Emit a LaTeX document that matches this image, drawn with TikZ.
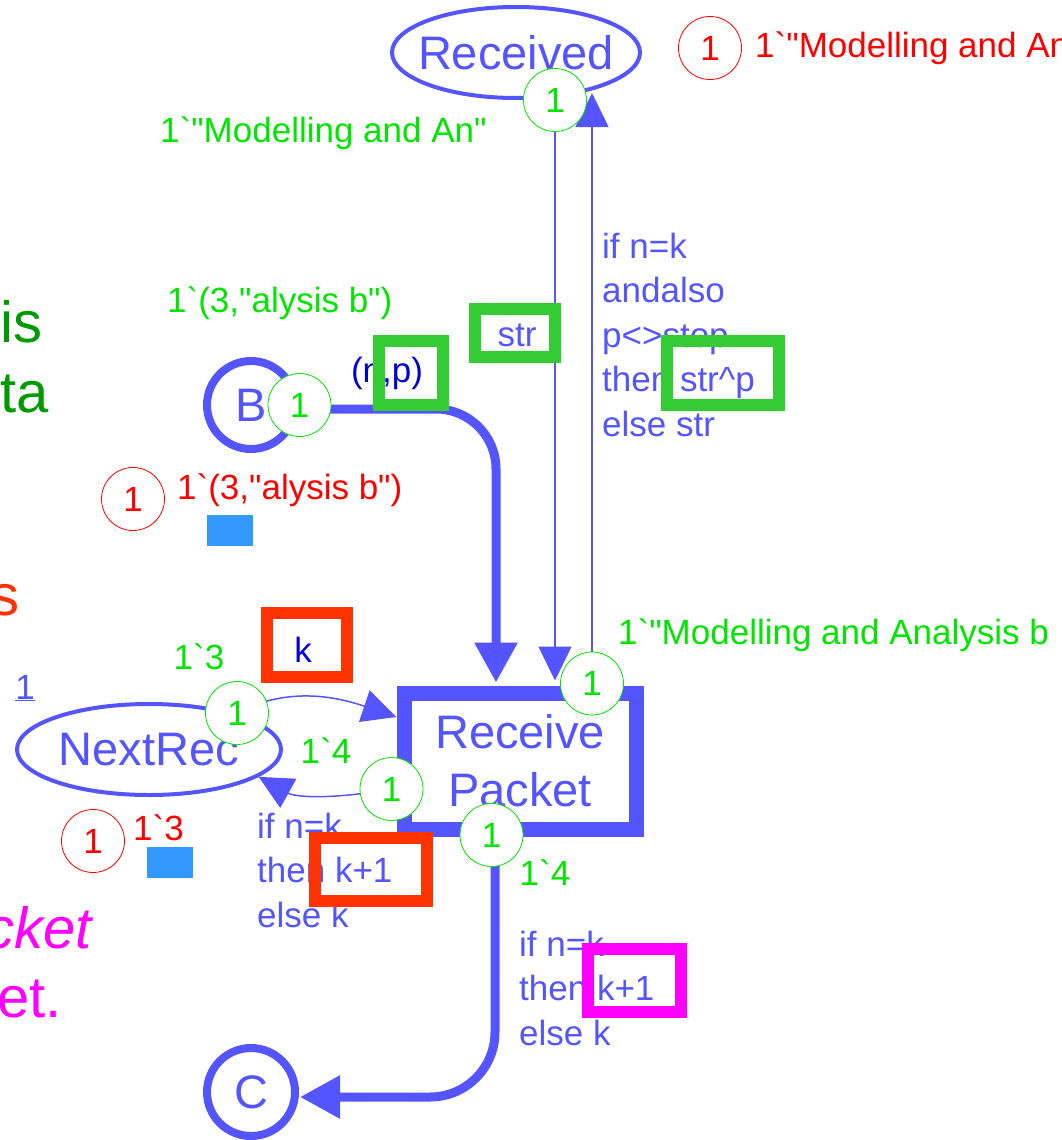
\documentclass[tikz,border=0pt]{standalone}
\usepackage{fontspec}
\newfontfamily\netfont{Liberation Sans}
\usetikzlibrary{arrows.meta,shapes.geometric}
\definecolor{netblue}{RGB}{85,85,255}
\definecolor{inscblue}{RGB}{0,0,220}
\definecolor{markgreen}{RGB}{0,230,0}
\definecolor{hlgreen}{RGB}{51,204,51}
\definecolor{hlred}{RGB}{255,51,0}
\definecolor{hlmagenta}{RGB}{255,0,255}
\definecolor{notegreen}{RGB}{0,153,0}
\definecolor{tokblue}{RGB}{51,153,255}
\pgfdeclarelayer{bg}
\pgfsetlayers{bg,main}
\begin{document}
\begin{tikzpicture}[x=1pt,y=-1pt,
  fsmall/.style={font=\netfont\fontsize{35}{44.5}\selectfont},
  fbig/.style={font=\netfont\fontsize{47}{58}\selectfont},
  fhuge/.style={font=\netfont\fontsize{58}{70}\selectfont},
  placenode/.style={ellipse,draw=netblue,fill=white,line width=4pt,inner sep=0pt,text=netblue,fbig},
  portplace/.style={circle,draw=netblue,fill=white,line width=8pt,minimum size=88pt,inner sep=0pt,text=netblue,fbig},
  transnode/.style={rectangle,draw=netblue,fill=white,line width=15pt,minimum width=232pt,minimum height=136pt,inner sep=0pt,text=netblue,fbig,align=center},
  thickarc/.style={draw=netblue,line width=9pt,-{Triangle[length=40pt,width=41pt]}},
  thinarc/.style={draw=netblue,line width=1.5pt,-{Triangle[length=34pt,width=33pt]}},
  tokcirc/.style={circle,draw=markgreen,fill=white,line width=0.8pt,minimum size=63pt,inner sep=0pt,text=markgreen,fsmall},
  redtok/.style={tokcirc,draw=red,text=red},
  marklbl/.style={fsmall,text=markgreen,inner sep=0pt},
  redlbl/.style={fsmall,text=red,inner sep=0pt},
  insc/.style={fsmall,text=netblue,inner sep=0pt,align=left},
  hlbox/.style={draw=#1,line width=12pt,inner sep=0pt},
  tokensq/.style={fill=tokblue,inner sep=0pt,minimum width=46pt,minimum height=31pt}
]
\useasboundingbox (0,0) rectangle (1062,1140);
\begin{pgfonlayer}{bg}
  \fill[white] (0,0) rectangle (1062,1140);
\end{pgfonlayer}

% places and the transition
\node[placenode,inner xsep=-12pt,minimum width=248pt,minimum height=91pt] (Rcv) at (516,52.5) {Received};
\node[portplace] (B) at (251,405) {B};
\node[placenode,minimum width=264pt,minimum height=91pt] (NR) at (149,749.5) {NextRec};
\node[portplace] (C) at (251,1092) {C};
\node[transnode] (T) at (520,761) {Receive\\Packet};

% current markings
\node[tokcirc] (tokR) at (555,100) {1};
\node[redtok] (tokRR) at (710,48) {1};
\node[tokcirc] (tokB) at (299.5,405) {1};
\node[redtok] (tokBR) at (133,499) {1};
\node[tokcirc] (tokN1) at (237,713) {1};
\node[redtok] (tokNR) at (93,841) {1};
\node[tokcirc] (tokT1) at (592,683.5) {1};
\node[tokcirc] (tokT2) at (391.5,789) {1};
\node[tokcirc] (tokT3) at (491.5,835) {1};
\coordinate (rcvIn) at (592,93);

% arcs
\begin{pgfonlayer}{bg}
  \draw[thickarc,rounded corners=60pt,shorten >=3pt] ([shift={(0,4)}]B.east) -| ([shift={(-24,0)}]T.north);
  \draw[thickarc,rounded corners=65pt,shorten >=1pt] ([shift={(-25,0)}]T.south) |- ([shift={(0,5)}]C.east);
  \draw[thinarc,shorten >=5pt] (tokR.center) -- (tokR.center |- T.north);
  \draw[thinarc] (tokT1.center) -- (rcvIn);
  \draw[thinarc] (tokN1.center) .. controls (290,685) and (340,698) .. ([shift={(0,-44)}]T.west);
  \draw[thinarc] (tokT2.center) .. controls (330,800) and (295,797) .. (NR.-14);
\end{pgfonlayer}

% marking texts
\node[redlbl,anchor=west] (rcvMark) at (755,48) {1`"Modelling and An};
\node[marklbl,anchor=west] (rcvInit) at (160,133) {1`"Modelling and An"};
\node[marklbl,anchor=west] (bInit) at (167,303) {1`(3,"alysis b")};
\node[redlbl,anchor=west] (bMark) at (177,490) {1`(3,"alysis b")};
\node[tokensq] (bSq) at (230,530) {};
\node[marklbl] (nrInit) at (199,657) {1`3};
\node[fsmall,text=netblue,inner sep=0pt] (nrCount) at (25,688) {\underline{1}};
\node[redlbl,anchor=west] (nrMark) at (133,828) {1`3};
\node[tokensq] (nrSq) at (170,862.5) {};
\node[marklbl] (tIn) at (326,751) {1`4};
\node[marklbl,anchor=west] (tRcv) at (618,635) {1`"Modelling and Analysis b};
\node[marklbl] (tOut) at (545,873) {1`4};

% arc inscriptions (anchored at the baseline of their last line)
\node[insc,anchor=base west] (inscUpd) at (602,436) {if n=k\\andalso\\p<>stop\\then str\textasciicircum p\\else str};
\node[fsmall,text=netblue,inner sep=0pt] (inscStr) at (517,335) {str};
\node[fsmall,text=inscblue,inner sep=0pt] (inscNP) at (387,373) {(n,p)};
\node[fsmall,text=inscblue,inner sep=0pt] (inscK) at (303,650) {k};
\node[insc,anchor=base west] (inscNext) at (257,927) {if n=k\\then k+1\\else k};
\node[insc,anchor=base west] (inscOut) at (519,1045) {if n=k\\then k+1\\else k};

% side notes
\node[fhuge,text=notegreen,anchor=base west,inner sep=0pt] (noteIs) at (0,342) {is};
\node[fhuge,text=notegreen,anchor=base west,inner sep=0pt] (noteTa) at (0,412) {ta};
\node[fhuge,text=hlred,anchor=base west,inner sep=0pt] (noteS) at (-10,615) {s};
\node[fhuge,text=hlmagenta,anchor=base east,inner sep=0pt] (noteKet) at (92,948) {\itshape cket};
\node[fhuge,text=hlmagenta,anchor=base east,inner sep=0pt] (noteEt) at (62,1017) {et.};

% highlight frames
\node[hlbox=hlgreen,minimum width=80pt,minimum height=48pt] (hlStr) at (515,333) {};
\node[hlbox=hlgreen,minimum width=112pt,minimum height=64pt] (hlStrP) at (723,373) {};
\node[hlbox=hlgreen,minimum width=64pt,minimum height=64pt] (hlNP) at (411,373) {};
\node[hlbox=hlred,minimum width=80pt,minimum height=64pt] (hlK) at (307,645) {};
\node[hlbox=hlred,minimum width=112pt,minimum height=63pt] (hlK1) at (371,869.5) {};
\node[hlbox=hlmagenta,minimum width=93pt,minimum height=63pt] (hlK1b) at (634.5,980.5) {};
\end{tikzpicture}
\end{document}
